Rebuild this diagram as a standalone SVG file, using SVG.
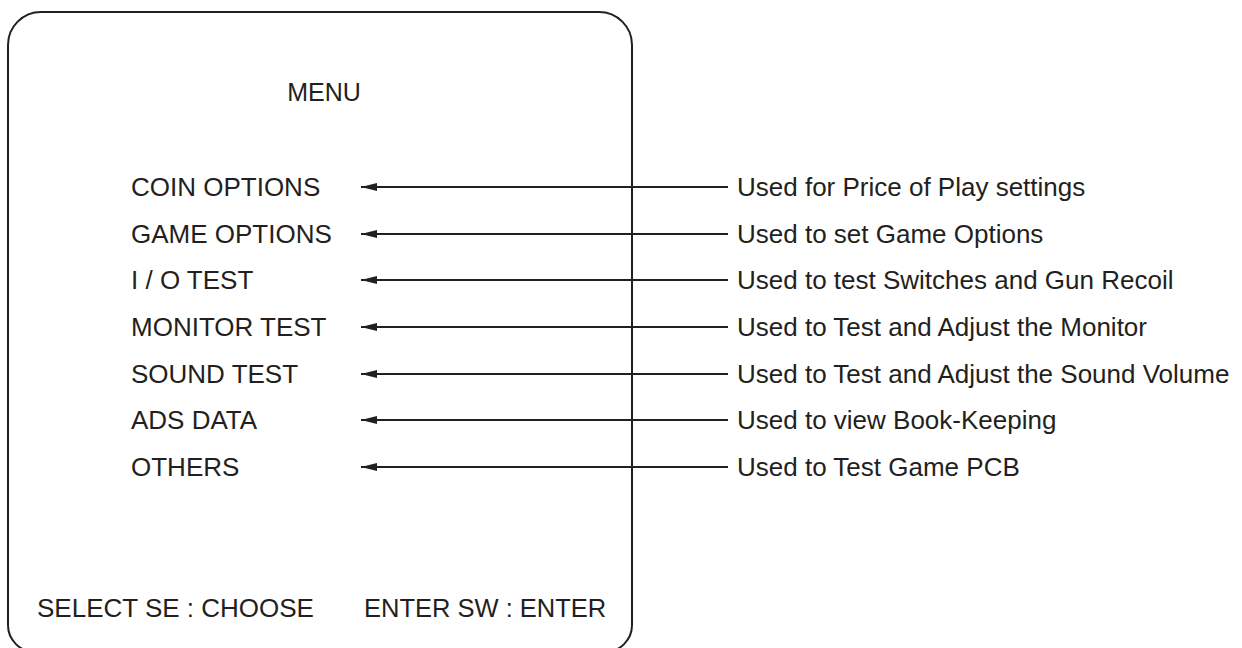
<svg xmlns="http://www.w3.org/2000/svg" width="1242" height="648" viewBox="0 0 1242 648">
<style>
text{font-family:"Liberation Sans",Arial,sans-serif;font-size:26px;fill:#231f20}
.c line{stroke:#231f20;stroke-width:1.8}
</style>
<defs>
<marker id="ah" viewBox="0 0 16 8" refX="16" refY="4" markerWidth="16" markerHeight="8" markerUnits="userSpaceOnUse" orient="auto">
<path d="M16,4 L0,0 L0,8 Z" fill="#231f20"/>
</marker>
</defs>
<rect width="1242" height="648" fill="#fff"/>
<g id="screen">
<path d="M8,45 A33,33 0 0 1 41,12 H599 A33,33 0 0 1 632,45 V625 A27,27 0 0 1 605,652 H35 A27,27 0 0 1 8,625 Z" fill="none" stroke="#231f20" stroke-width="2"/>
<text x="324" y="101" text-anchor="middle" style="font-size:25px">MENU</text>
<text x="37" y="617">SELECT SE : CHOOSE</text>
<text x="364" y="617" style="font-size:25.5px">ENTER SW : ENTER</text>
</g>
<g id="menu-items">
<text x="131" y="196">COIN OPTIONS</text>
<text x="131" y="243">GAME OPTIONS</text>
<text x="131" y="289">I / O TEST</text>
<text x="131" y="336">MONITOR TEST</text>
<text x="131" y="383">SOUND TEST</text>
<text x="131" y="429">ADS DATA</text>
<text x="131" y="476">OTHERS</text>
</g>
<g id="descriptions">
<text x="737" y="196">Used for Price of Play settings</text>
<text x="737" y="243">Used to set Game Options</text>
<text x="737" y="289">Used to test Switches and Gun Recoil</text>
<text x="737" y="336">Used to Test and Adjust the Monitor</text>
<text x="737" y="383">Used to Test and Adjust the Sound Volume</text>
<text x="737" y="429">Used to view Book-Keeping</text>
<text x="737" y="476">Used to Test Game PCB</text>
</g>
<g id="connectors" class="c">
<line x1="728" y1="187" x2="361" y2="187" marker-end="url(#ah)"/>
<line x1="728" y1="234" x2="361" y2="234" marker-end="url(#ah)"/>
<line x1="728" y1="280" x2="361" y2="280" marker-end="url(#ah)"/>
<line x1="728" y1="327" x2="361" y2="327" marker-end="url(#ah)"/>
<line x1="728" y1="374" x2="361" y2="374" marker-end="url(#ah)"/>
<line x1="728" y1="420" x2="361" y2="420" marker-end="url(#ah)"/>
<line x1="728" y1="467" x2="361" y2="467" marker-end="url(#ah)"/>
</g>
</svg>
